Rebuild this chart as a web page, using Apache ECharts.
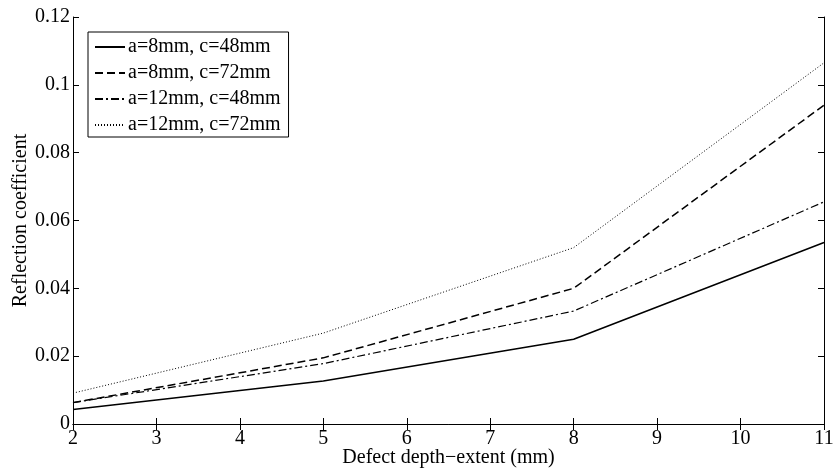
<!DOCTYPE html>
<html><head><meta charset="utf-8">
<script src="https://cdn.jsdelivr.net/npm/echarts@6/dist/echarts.min.js"></script>
<style>html,body{margin:0;padding:0;background:#fff}#c{width:838px;height:470px}</style>
</head><body><div id="c"></div>
<script>
const depths = [2, 5, 8, 11];
const seriesNames = ['a=8mm, c=48mm', 'a=8mm, c=72mm', 'a=12mm, c=48mm', 'a=12mm, c=72mm'];
const a8c48 = [0.0043, 0.0127, 0.0250, 0.0535];
const a8c72 = [0.0063, 0.0195, 0.0400, 0.0940];
const a12c48 = [0.0063, 0.0178, 0.0333, 0.0655];
const a12c72 = [0.0091, 0.0268, 0.0520, 0.1065];
const yTicks = ['0', '0.02', '0.04', '0.06', '0.08', '0.1', '0.12'];

const font = 'Liberation Serif';
const fs = 20;
const dataSets = [a8c48, a8c72, a12c48, a12c72];
const dashTypes = ['solid', [8, 4], [8, 3, 2, 3], [1, 2]];
const widths = [1.5, 1.5, 1.2, 1];

const chart = echarts.init(document.getElementById('c'));
const axisCommon = {
  axisLine: {show: true, lineStyle: {color: '#000', width: 1}},
  axisTick: {show: true, inside: true, length: 6, lineStyle: {color: '#000'}},
  splitLine: {show: false}
};
chart.setOption({
  animation: false,
  backgroundColor: '#fff',
  textStyle: {fontFamily: font},
  grid: {left: 73, right: 14, top: 17, bottom: 46, containLabel: false, outerBoundsMode: 'none'},
  legend: {
    left: 88, top: 32, orient: 'vertical',
    icon: 'inherit',
    itemStyle: {opacity: 0, color: 'transparent', borderWidth: 0},
    itemWidth: 30, itemHeight: 14, itemGap: 6,
    padding: [5, 8, 2, 6],
    borderColor: '#000', borderWidth: 1, backgroundColor: '#fff',
    textStyle: {fontFamily: font, fontSize: fs, color: '#000', padding: [0, 0, 0, -2]},
    data: seriesNames
  },
  xAxis: [
    Object.assign({type: 'value', min: 2, max: 11, interval: 1, position: 'bottom',
      name: 'Defect depth\u2212extent (mm)', nameLocation: 'middle', nameGap: 24, nameMoveOverlap: false,
      nameTextStyle: {fontFamily: font, fontSize: fs, color: '#000'},
      axisLabel: {fontFamily: font, fontSize: fs, color: '#000', margin: 5}}, axisCommon),
    Object.assign({type: 'value', min: 2, max: 11, interval: 1, position: 'top',
      axisLabel: {show: false}}, axisCommon)
  ],
  yAxis: [
    Object.assign({type: 'value', min: 0, max: 0.12, interval: 0.02, position: 'left',
      name: 'Reflection coefficient', nameLocation: 'middle', nameGap: 42, nameMoveOverlap: false,
      nameTextStyle: {fontFamily: font, fontSize: fs, color: '#000'},
      axisLabel: {fontFamily: font, fontSize: fs, color: '#000', margin: 3,
        formatter: (v) => yTicks[Math.round(v / 0.02)]}}, axisCommon),
    Object.assign({type: 'value', min: 0, max: 0.12, interval: 0.02, position: 'right',
      axisLabel: {show: false}}, axisCommon)
  ],
  series: seriesNames.map((n, i) => ({
    name: n, type: 'line', xAxisIndex: 0, yAxisIndex: 0,
    data: depths.map((d, j) => [d, dataSets[i][j]]),
    showSymbol: false, symbol: 'none',
    lineStyle: {color: '#000', width: widths[i], type: dashTypes[i]},
    itemStyle: {color: '#000'}
  }))
});
</script></body></html>
